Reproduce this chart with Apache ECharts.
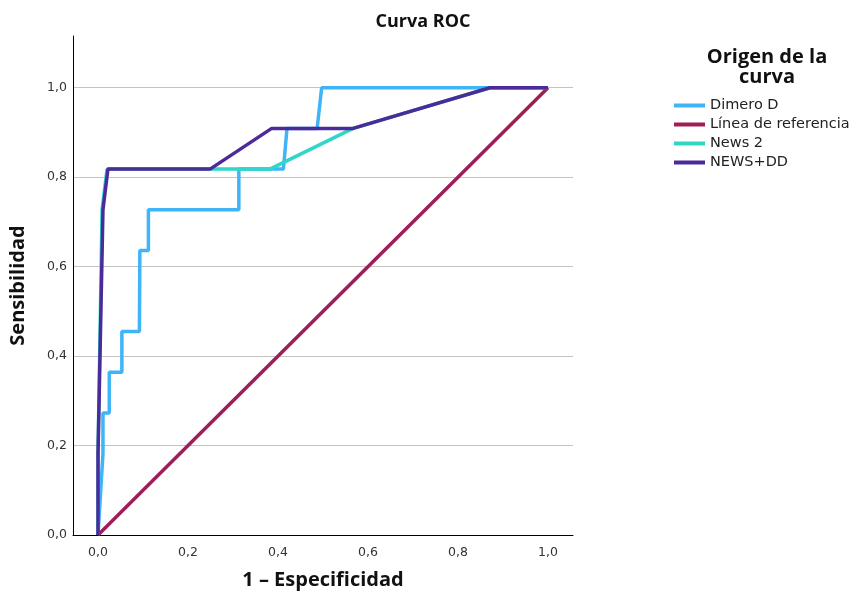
<!DOCTYPE html>
<html>
<head>
<meta charset="utf-8">
<script src="https://cdn.jsdelivr.net/npm/echarts@6/dist/echarts.min.js"></script>
<style>html,body{margin:0;padding:0;background:#fff}#c{width:854px;height:595px}</style>
</head>
<body>
<div id="c"></div>
<script>
const seriesNames = ['Dimero D', 'Línea de referencia', 'News 2', 'NEWS+DD'];
const seriesColors = ['#3fb4f7', '#9e1f56', '#2fd6c9', '#4b2a99'];
const tickValues = [0, 0.2, 0.4, 0.6, 0.8, 1.0];

const dimeroD = [[0,0],[0.011,0.182],[0.011,0.273],[0.025,0.273],[0.025,0.364],[0.053,0.364],[0.053,0.455],[0.092,0.455],[0.093,0.636],[0.112,0.636],[0.112,0.727],[0.313,0.727],[0.313,0.818],[0.412,0.818],[0.42,0.909],[0.487,0.909],[0.497,1.0],[1.0,1.0]];
const referencia = [[0,0],[1,1]];
const news2 = [[0,0],[0,0.182],[0.009,0.727],[0.02,0.818],[0.382,0.818],[0.567,0.909],[0.871,1.0],[1.0,1.0]];
const newsDD = [[0,0],[0,0.182],[0.011,0.727],[0.022,0.818],[0.249,0.818],[0.386,0.909],[0.567,0.909],[0.871,1.0],[1.0,1.0]];
const seriesData = [dimeroD, referencia, news2, newsDD];

const fmt = v => v.toFixed(1).replace('.', ',');
const FONT = 'DejaVu Sans';
const BOLD = 'Open Sans';

const chart = echarts.init(document.getElementById('c'));
chart.setOption({
  animation: false,
  textStyle: { fontFamily: FONT },
  title: [
    { text: 'Curva ROC', left: 418, top: 8, textAlign: 'center',
      textStyle: { fontFamily: BOLD, fontSize: 18, fontWeight: 'bold', color: '#111' } },
    { text: 'Origen de la\ncurva', left: 762, top: 42, textAlign: 'center',
      textStyle: { fontFamily: BOLD, fontSize: 20, fontWeight: 'bold', color: '#111', lineHeight: 20 } }
  ],
  legend: {
    orient: 'vertical', left: 669, top: 93,
    itemWidth: 31, itemHeight: 4, itemGap: 4, icon: 'rect',
    data: seriesNames,
    textStyle: { fontFamily: FONT, fontSize: 14.5, color: '#222' }
  },
  grid: { left: 73, right: 281, top: 36, bottom: 58, containLabel: false },
  xAxis: {
    type: 'value', min: -0.0556, max: 1.0556,
    name: '1 – Especificidad', nameLocation: 'middle', nameGap: 35,
    nameTextStyle: { fontFamily: BOLD, fontSize: 20, fontWeight: 'bold', color: '#111' },
    axisLine: { show: true, lineStyle: { color: '#000', width: 1 } },
    axisTick: { show: false, customValues: tickValues },
    axisLabel: { customValues: tickValues, formatter: fmt, fontFamily: FONT, fontSize: 12.5, color: '#333', margin: 11 },
    splitLine: { show: false }
  },
  yAxis: {
    type: 'value', min: 0, max: 1.1156,
    name: 'Sensibilidad', nameLocation: 'middle', nameGap: 45, nameRotate: 90,
    nameTextStyle: { fontFamily: BOLD, fontSize: 20, fontWeight: 'bold', color: '#111' },
    axisLine: { show: true, onZero: false, lineStyle: { color: '#000', width: 1 } },
    axisTick: { show: false, customValues: tickValues },
    axisLabel: { customValues: tickValues, formatter: fmt, fontFamily: FONT, fontSize: 12.5, color: '#333', margin: 6 },
    splitLine: { show: true, lineStyle: { color: '#c4c4c4', width: 1 } }
  },
  series: seriesNames.map((n, i) => ({
    name: n, type: 'line', data: seriesData[i],
    showSymbol: false, symbol: 'none',
    lineStyle: { color: seriesColors[i], width: 3.5 },
    itemStyle: { color: seriesColors[i] },
    z: 2 + i
  }))
});
</script>
</body>
</html>
